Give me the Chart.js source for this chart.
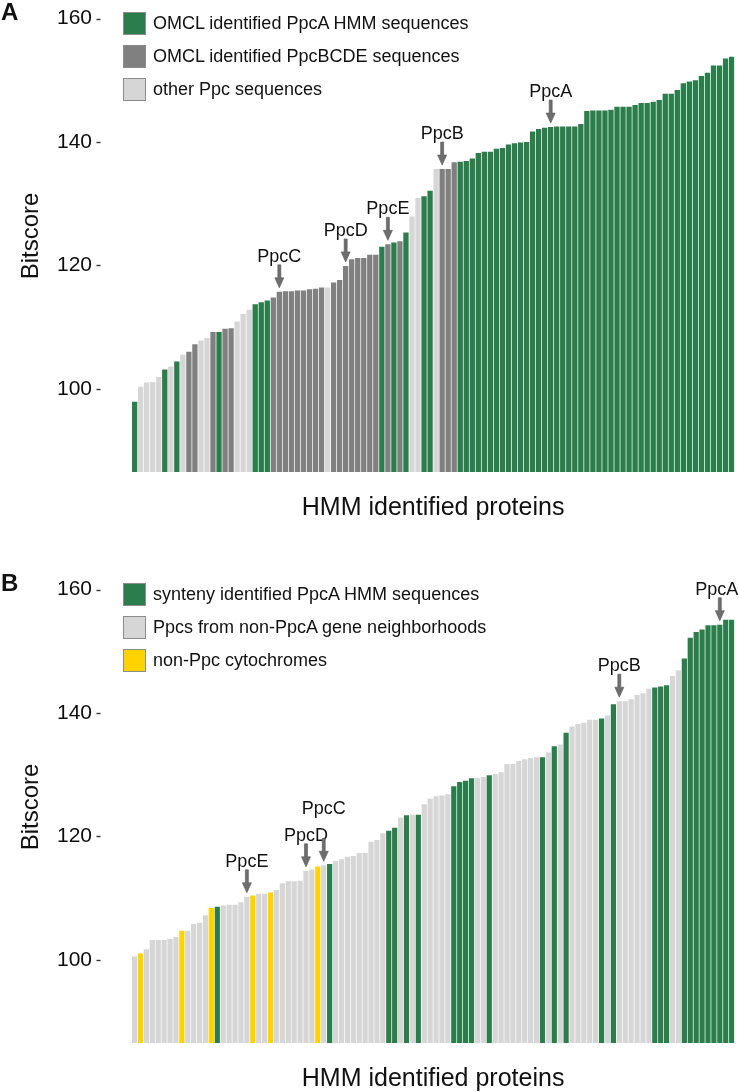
<!DOCTYPE html>
<html>
<head>
<meta charset="utf-8">
<script src="https://cdn.jsdelivr.net/npm/chart.js@4.4.1/dist/chart.umd.min.js"></script>
<style>
  html, body { margin: 0; padding: 0; background: #fff; width: 739px; height: 1092px; overflow: hidden; }
  body { position: relative; font-family: "Liberation Sans", Arial, Helvetica, sans-serif; color: #111; }
  .panel { position: absolute; left: 0; width: 739px; height: 546px; }
  .panel canvas { position: absolute; left: 0; top: 0; }
  .tag { position: absolute; left: 1px; top: 0; font-size: 24px; line-height: 24px; font-weight: bold; }
  .legend { position: absolute; left: 123px; top: 7px; }
  .legend .row { height: 33px; display: flex; align-items: center; font-size: 18px; }
  .legend .sq { width: 23px; height: 23px; box-sizing: border-box; border: 1px solid #8c8c8c; margin-right: 7px; }
</style>
</head>
<body>
<div class="panel" style="top:0">
  <canvas id="chartA" width="739" height="546"></canvas>
  <div class="tag">A</div>
  <div class="legend" id="legendA"></div>
</div>
<div class="panel" style="top:571px">
  <canvas id="chartB" width="739" height="546"></canvas>
  <div class="tag">B</div>
  <div class="legend" id="legendB"></div>
</div>
<script>
/* ---------- data ---------- */
// panel A: OMCL classification, sorted by bitscore
var bitscoreA = [
  97.9, 100.3, 101.0, 101.1, 101.9, 103.1, 103.6, 104.4, 105.5, 106.0,
  107.2, 107.8, 108.2, 109.2, 109.2, 109.7, 109.8, 110.9, 112.1, 112.8,
  113.7, 114.0, 114.3, 114.8, 115.7, 115.8, 115.8, 115.9, 115.9, 116.1,
  116.2, 116.4, 116.4, 117.2, 117.6, 119.9, 121.0, 121.2, 121.2, 121.7,
  121.7, 123.0, 123.4, 123.7, 123.9, 125.3, 127.9, 130.9, 131.2, 132.1,
  135.6, 135.6, 135.6, 136.7, 136.8, 136.9, 137.3, 138.2, 138.4, 138.4,
  138.9, 139.0, 139.6, 139.8, 139.9, 140.0, 141.7, 142.1, 142.3, 142.4,
  142.5, 142.5, 142.5, 142.5, 142.9, 145.0, 145.1, 145.1, 145.1, 145.2,
  145.7, 145.7, 145.7, 146.0, 146.3, 146.3, 146.5, 146.8, 147.8, 147.8,
  148.4, 149.5, 149.8, 150.0, 150.7, 151.2, 152.4, 152.4, 153.5, 153.8
];
// G = PpcA HMM, D = PpcBCDE, L = other Ppc
var groupA = ('GLLLLGLGLD' + 'DLLDGDDLLL' + 'GGGDDDDDDD' + 'DDLDDDDDDD' + 'DGDGDGLLGG' +
              'LDDDGGGGGG' + 'GGGGGGGGGG' + 'GGGGGGGGGG' + 'GGGGGGGGGG' + 'GGGGGGGGGG').split('');
var markNamesA = ['PpcC', 'PpcD', 'PpcE', 'PpcB', 'PpcA'];
var markBarsA  = [25, 36, 43, 52, 70];          // 1-based bar number

// panel B: synteny classification
var bitscoreB = [
  100.5, 101.0, 101.7, 103.2, 103.2, 103.2, 103.4, 103.7, 104.7, 104.7,
  105.8, 106.0, 107.2, 108.4, 108.6, 108.8, 108.9, 108.9, 109.3, 110.2,
  110.4, 110.7, 110.7, 110.9, 111.3, 112.4, 112.7, 112.7, 112.8, 114.4,
  114.6, 115.1, 115.3, 115.5, 116.0, 116.3, 116.7, 116.8, 117.3, 117.3,
  119.1, 119.4, 120.5, 120.9, 121.4, 123.0, 123.4, 123.5, 123.5, 125.2,
  126.1, 126.5, 126.6, 126.8, 128.1, 128.8, 129.0, 129.4, 129.4, 129.6,
  129.9, 130.1, 130.4, 131.7, 131.7, 132.2, 132.5, 132.7, 132.8, 132.8,
  133.6, 134.6, 134.9, 136.8, 137.8, 138.2, 138.4, 138.9, 138.9, 139.1,
  139.6, 141.4, 141.9, 141.9, 142.2, 142.9, 143.2, 143.9, 144.1, 144.3,
  144.5, 146.0, 146.9, 148.8, 152.2, 153.1, 153.5, 154.2, 154.2, 154.3,
  155.1, 155.1
];
// G = synteny PpcA, L = non-PpcA neighbourhood Ppc, Y = non-Ppc cytochrome
var groupB = ('LYLLLLLLYL' + 'LLLYGLLLLL' + 'YLLYLLLLLL' + 'LYLGLLLLLL' + 'LLLGGLGLGL' +
              'LLLLGGGGLL' + 'GLLLLLLLLG' + 'LGLGLLLLLG' + 'LGLLLLLLGG' + 'GLLGGGGGGG' + 'GG').split('');
var markNamesB = ['PpcE', 'PpcD', 'PpcC', 'PpcB', 'PpcA'];
var markBarsB  = [20, 30, 33, 83, 100];

var bitscoreTicks = [100, 120, 140, 160];

var legendTextA = ['OMCL identified PpcA HMM sequences', 'OMCL identified PpcBCDE sequences', 'other Ppc sequences'];
var legendKeysA = ['G', 'D', 'L'];
var legendTextB = ['synteny identified PpcA HMM sequences', 'Ppcs from non-PpcA gene neighborhoods', 'non-Ppc cytochromes'];
var legendKeysB = ['G', 'L', 'Y'];

/* ---------- style ---------- */
var COL = { G: '#2B7D4B', D: '#808080', L: '#D6D6D6', Y: '#FFD300' };
var FONT = '"Liberation Sans", Arial, Helvetica, sans-serif';
var INK = '#111';

Chart.defaults.font.family = FONT;
Chart.defaults.color = INK;

// small ggplot-style tick dashes left of the labels
var tickDashes = {
  id: 'tickDashes',
  afterDraw: function (chart) {
    var ys = chart.scales.y, ctx = chart.ctx;
    ctx.save();
    ctx.strokeStyle = '#333';
    ctx.lineWidth = 1.4;
    ys.ticks.forEach(function (t) {
      var py = Math.round(ys.getPixelForValue(t.value)) + 0.5;
      ctx.beginPath(); ctx.moveTo(96.5, py); ctx.lineTo(100.5, py); ctx.stroke();
    });
    ctx.restore();
  }
};

// labelled arrows pointing at single bars
var barArrows = {
  id: 'barArrows',
  afterDatasetsDraw: function (chart, args, opts) {
    var ctx = chart.ctx, xs = chart.scales.x, ys = chart.scales.y;
    var vals = chart.data.datasets[0].data;
    ctx.save();
    opts.names.forEach(function (name, k) {
      var i = opts.bars[k] - 1;
      var x = xs.getPixelForValue(i);
      var tip = ys.getPixelForValue(vals[i]) - 4;
      var tail = tip - 23;
      ctx.fillStyle = '#6e6e6e';
      ctx.strokeStyle = '#555';
      ctx.lineWidth = 0.6;
      ctx.beginPath();
      ctx.moveTo(x - 1.5, tail); ctx.lineTo(x + 1.5, tail);
      ctx.lineTo(x + 1.5, tip - 10); ctx.lineTo(x + 4.5, tip - 10);
      ctx.lineTo(x, tip); ctx.lineTo(x - 4.5, tip - 10);
      ctx.lineTo(x - 1.5, tip - 10); ctx.closePath();
      ctx.fill(); ctx.stroke();
      ctx.fillStyle = INK;
      ctx.font = '18px ' + FONT;
      ctx.textAlign = 'center';
      ctx.textBaseline = 'alphabetic';
      var tx = x + (opts.textDx ? opts.textDx[k] : 0);
      ctx.fillText(name, tx, tail - 3 - (opts.lift ? opts.lift[k] : 0));
    });
    ctx.restore();
  }
};

function legendHtml(el, texts, keys) {
  el.innerHTML = texts.map(function (t, i) {
    return '<div class="row"><span class="sq" style="background:' + COL[keys[i]] + '"></span>' + t + '</div>';
  }).join('');
}

function panel(canvasId, values, groups, arrowOpts) {
  var labels = values.map(function (_, i) { return 'protein ' + (i + 1); });
  return new Chart(document.getElementById(canvasId), {
    type: 'bar',
    data: {
      labels: labels,
      datasets: [{
        data: values,
        backgroundColor: groups.map(function (g) { return COL[g]; }),
        borderWidth: 0,
        barPercentage: 0.88,
        categoryPercentage: 1.0
      }]
    },
    options: {
      responsive: false,
      devicePixelRatio: 1,
      animation: false,
      events: [],
      layout: { padding: { left: 0, right: 4.4, top: 0, bottom: 0 } },
      plugins: { legend: { display: false }, tooltip: { enabled: false }, barArrows: arrowOpts },
      scales: {
        x: {
          grid: { display: false, drawTicks: false },
          border: { display: false },
          ticks: { display: false },
          title: { display: true, text: 'HMM identified proteins', color: INK,
                   font: { size: 25 }, padding: { top: 0, bottom: 23 } },
          afterFit: function (s) { s.height = 74; s.paddingLeft = 0; s.paddingRight = 0; }
        },
        y: {
          min: 86.5, max: 163,
          grid: { display: false, drawTicks: false },
          border: { display: false },
          ticks: { font: { size: 21 }, color: '#0d0d0d', padding: 39.6 },
          afterBuildTicks: function (s) { s.ticks = bitscoreTicks.map(function (v) { return { value: v }; }); },
          title: { display: true, text: 'Bitscore', color: INK,
                   font: { size: 24 }, padding: { top: 17, bottom: 0 } },
          // plot panel spans the full height above the x title
          afterFit: function (s) { s.width = 131.6; s.paddingTop = 0; s.paddingBottom = 0; }
        }
      }
    },
    plugins: [tickDashes, barArrows]
  });
}

legendHtml(document.getElementById('legendA'), legendTextA, legendKeysA);
legendHtml(document.getElementById('legendB'), legendTextB, legendKeysB);

panel('chartA', bitscoreA, groupA, { names: markNamesA, bars: markBarsA });
panel('chartB', bitscoreB, groupB, { names: markNamesB, bars: markBarsB,
  lift: [0, 0, 21, 0, 0], textDx: [0, 0, 0, 0, -3] });
</script>
</body>
</html>
